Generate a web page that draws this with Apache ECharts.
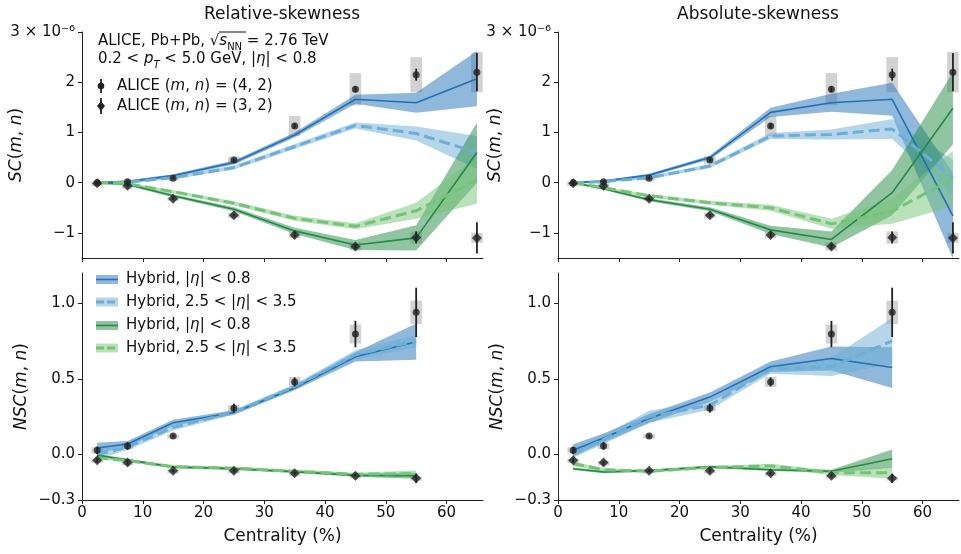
<!DOCTYPE html>
<html><head><meta charset="utf-8">
<script src="https://cdn.jsdelivr.net/npm/echarts@6/dist/echarts.min.js"></script>
<style>html,body{margin:0;padding:0;background:#fff}#c{width:961px;height:554px}</style>
</head><body><div id="c"></div>
<script>
const FONT = 'DejaVu Sans';
const TXT = '#111';
// ---------- categories / ticks ----------
const centralitySC = [2.5, 7.5, 15, 25, 35, 45, 55, 65];
const centralityNSC = [2.5, 7.5, 15, 25, 35, 45, 55];
const xTicks = [0, 10, 20, 30, 40, 50, 60];
const scTicks = [-1, 0, 1, 2, 3];
const nscTicks = [-0.3, 0, 0.5, 1.0];
const panelTitles = ['Relative-skewness', 'Absolute-skewness'];

// ---------- ALICE data (SC in units of 1e-6) ----------
const aliceSC42 = [0.0, 0.02, 0.09, 0.45, 1.13, 1.86, 2.15, 2.2];
const aliceSC42Stat = [0.02, 0.02, 0.02, 0.03, 0.05, 0.06, 0.12, 0.38];
const aliceSC42Sys = [0.02, 0.02, 0.03, 0.07, 0.2, 0.32, 0.35, 0.4];
const aliceSC32 = [-0.01, -0.06, -0.32, -0.65, -1.04, -1.27, -1.09, -1.1];
const aliceSC32Stat = [0.02, 0.03, 0.03, 0.03, 0.05, 0.05, 0.12, 0.31];
const aliceSC32Sys = [0.02, 0.02, 0.04, 0.05, 0.06, 0.08, 0.12, 0.1];
const aliceNSC42 = [0.028, 0.057, 0.123, 0.307, 0.48, 0.797, 0.94];
const aliceNSC42Stat = [0.025, 0.025, 0.01, 0.03, 0.03, 0.087, 0.163];
const aliceNSC42Sys = [0.02, 0.02, 0.01, 0.02, 0.033, 0.063, 0.077];
const aliceNSC32 = [-0.038, -0.053, -0.106, -0.106, -0.124, -0.139, -0.157];
const aliceNSC32Stat = [0.015, 0.015, 0.01, 0.012, 0.01, 0.01, 0.03];
const aliceNSC32Sys = [0.01, 0.008, 0.008, 0.008, 0.008, 0.008, 0.012];

// ---------- Hybrid model: Relative-skewness ----------
const relSC42Mid = [0, 0.02, 0.14, 0.4, 0.95, 1.66, 1.59, 2.07];
const relSC42Err = [0.02, 0.03, 0.03, 0.04, 0.05, 0.09, 0.2, 0.55];
const relSC42FwdMid = [0, 0.01, 0.1, 0.3, 0.72, 1.14, 0.98, 0.6];
const relSC42FwdErr = [0.02, 0.02, 0.03, 0.04, 0.05, 0.06, 0.14, 0.33];
const relSC32Mid = [0, -0.03, -0.26, -0.53, -0.96, -1.24, -1.1, 0.6];
const relSC32Err = [0.02, 0.03, 0.03, 0.04, 0.06, 0.1, 0.25, 0.6];
const relSC32FwdMid = [0, -0.02, -0.18, -0.41, -0.71, -0.87, -0.56, 0.05];
const relSC32FwdErr = [0.02, 0.02, 0.03, 0.04, 0.05, 0.06, 0.16, 0.47];

const relNSC42Mid = [0.044, 0.07, 0.21, 0.278, 0.44, 0.646, 0.746];
const relNSC42Err = [0.035, 0.02, 0.02, 0.015, 0.015, 0.03, 0.12];
const relNSC42FwdMid = [0.0, 0.05, 0.18, 0.28, 0.45, 0.66, 0.75];
const relNSC42FwdErr = [0.03, 0.02, 0.02, 0.015, 0.015, 0.03, 0.04];
const relNSC32Mid = [-0.005, -0.035, -0.082, -0.093, -0.113, -0.137, -0.14];
const relNSC32Err = [0.008, 0.008, 0.008, 0.008, 0.008, 0.01, 0.02];
const relNSC32FwdMid = [-0.02, -0.04, -0.08, -0.09, -0.11, -0.13, -0.125];
const relNSC32FwdErr = [0.01, 0.01, 0.01, 0.01, 0.01, 0.01, 0.02];

// ---------- Hybrid model: Absolute-skewness ----------
const absSC42Mid = [0, 0.03, 0.15, 0.5, 1.4, 1.59, 1.66, -0.66];
const absSC42Err = [0.02, 0.02, 0.03, 0.04, 0.09, 0.18, 0.33, 0.85];
const absSC42FwdMid = [0, 0.02, 0.1, 0.33, 0.93, 0.96, 1.07, 0.1];
const absSC42FwdErr = [0.02, 0.02, 0.03, 0.04, 0.06, 0.1, 0.2, 0.35];
const absSC32Mid = [0, -0.12, -0.34, -0.53, -0.94, -1.13, -0.2, 1.48];
const absSC32Err = [0.02, 0.02, 0.03, 0.04, 0.08, 0.16, 0.45, 0.72];
const absSC32FwdMid = [0, -0.1, -0.26, -0.4, -0.5, -0.82, -0.57, 0.08];
const absSC32FwdErr = [0.02, 0.02, 0.03, 0.04, 0.06, 0.1, 0.25, 0.55];

const absNSC42Mid = [0.028, 0.11, 0.238, 0.38, 0.58, 0.635, 0.575];
const absNSC42Err = [0.04, 0.03, 0.03, 0.03, 0.035, 0.08, 0.135];
const absNSC42FwdMid = [0.01, 0.1, 0.25, 0.326, 0.565, 0.58, 0.752];
const absNSC42FwdErr = [0.03, 0.03, 0.04, 0.03, 0.03, 0.06, 0.15];
const absNSC32Mid = [-0.093, -0.115, -0.106, -0.08, -0.1, -0.11, -0.027];
const absNSC32Err = [0.008, 0.008, 0.008, 0.008, 0.008, 0.01, 0.06];
const absNSC32FwdMid = [-0.06, -0.1, -0.11, -0.085, -0.075, -0.12, -0.12];
const absNSC32FwdErr = [0.015, 0.01, 0.01, 0.01, 0.015, 0.015, 0.04];

// ---------- styles ----------
const C_BLUE = '#2171b5', C_LBLUE = '#6baed6', C_GREEN = '#238b45', C_LGREEN = '#74c476';
const BAND_OP = 0.5;
const DASH = [11, 5];
const SYS_COLOR = '#d2d2d2';
const PT_COLOR = '#222';

const gridDefs = [
  { left: 82, top: 32, width: 401, height: 226 },
  { left: 558, top: 32, width: 401, height: 226 },
  { left: 82, top: 273, width: 401, height: 227 },
  { left: 558, top: 273, width: 401, height: 227 }
];

function fmtMinus(v, digits) {
  const s = digits == null ? String(Math.abs(v)) : Math.abs(v).toFixed(digits);
  return (v < 0 ? '\u2212' : '') + s;
}

const series = [];
function bandSeries(p, xs, mid, err, color) {
  return {
    type: 'custom', xAxisIndex: p, yAxisIndex: p, clip: true, silent: true, z: 2,
    data: xs.map((x, i) => [x, mid[i] - err[i], mid[i] + err[i]]),
    encode: { x: 0, y: [1, 2] },
    renderItem: (params, api) => {
      if (params.dataIndex !== 0) return;
      const up = xs.map((x, i) => api.coord([x, mid[i] + err[i]]));
      const lo = xs.map((x, i) => api.coord([x, mid[i] - err[i]])).reverse();
      return { type: 'polygon', shape: { points: up.concat(lo) }, style: { fill: color, opacity: BAND_OP } };
    }
  };
}
function lineSeries(p, xs, mid, color, dashed) {
  return {
    type: 'line', xAxisIndex: p, yAxisIndex: p, clip: true, silent: true, z: 3,
    symbol: 'none', showSymbol: false,
    data: xs.map((x, i) => [x, mid[i]]),
    lineStyle: { color, width: dashed ? 3 : 1.6, type: dashed ? DASH : 'solid' }
  };
}
function sysSeries(p, xs, ys, sys) {
  return {
    type: 'custom', xAxisIndex: p, yAxisIndex: p, clip: true, silent: true, z: 1,
    data: xs.map((x, i) => [x, ys[i], sys[i]]),
    renderItem: (params, api) => {
      const x = api.value(0), y = api.value(1), s = api.value(2);
      const a = api.coord([x - 0.95, y + s]), b = api.coord([x + 0.95, y - s]);
      return { type: 'rect', shape: { x: a[0], y: a[1], width: b[0] - a[0], height: Math.max(b[1] - a[1], 4) }, style: { fill: SYS_COLOR } };
    }
  };
}
function statSeries(p, xs, ys, st) {
  return {
    type: 'custom', xAxisIndex: p, yAxisIndex: p, clip: true, silent: true, z: 4,
    data: xs.map((x, i) => [x, ys[i], st[i]]),
    renderItem: (params, api) => {
      const x = api.value(0), y = api.value(1), s = api.value(2);
      const a = api.coord([x, y + s]), b = api.coord([x, y - s]);
      return { type: 'line', shape: { x1: a[0], y1: a[1], x2: b[0], y2: b[1] }, style: { stroke: PT_COLOR, lineWidth: 1.8 } };
    }
  };
}
function ptSeries(p, xs, ys, symbol, size) {
  return {
    type: 'scatter', xAxisIndex: p, yAxisIndex: p, silent: true, z: 5, symbol, symbolSize: size,
    itemStyle: { color: PT_COLOR }, data: xs.map((x, i) => [x, ys[i]])
  };
}

const panelData = [
  { xs: centralitySC, a42: [aliceSC42, aliceSC42Stat, aliceSC42Sys], a32: [aliceSC32, aliceSC32Stat, aliceSC32Sys],
    m: [[relSC42Mid, relSC42Err], [relSC42FwdMid, relSC42FwdErr], [relSC32Mid, relSC32Err], [relSC32FwdMid, relSC32FwdErr]] },
  { xs: centralitySC, a42: [aliceSC42, aliceSC42Stat, aliceSC42Sys], a32: [aliceSC32, aliceSC32Stat, aliceSC32Sys],
    m: [[absSC42Mid, absSC42Err], [absSC42FwdMid, absSC42FwdErr], [absSC32Mid, absSC32Err], [absSC32FwdMid, absSC32FwdErr]] },
  { xs: centralityNSC, a42: [aliceNSC42, aliceNSC42Stat, aliceNSC42Sys], a32: [aliceNSC32, aliceNSC32Stat, aliceNSC32Sys],
    m: [[relNSC42Mid, relNSC42Err], [relNSC42FwdMid, relNSC42FwdErr], [relNSC32Mid, relNSC32Err], [relNSC32FwdMid, relNSC32FwdErr]] },
  { xs: centralityNSC, a42: [aliceNSC42, aliceNSC42Stat, aliceNSC42Sys], a32: [aliceNSC32, aliceNSC32Stat, aliceNSC32Sys],
    m: [[absNSC42Mid, absNSC42Err], [absNSC42FwdMid, absNSC42FwdErr], [absNSC32Mid, absNSC32Err], [absNSC32FwdMid, absNSC32FwdErr]] }
];
const modelStyles = [[C_BLUE, false], [C_LBLUE, true], [C_GREEN, false], [C_LGREEN, true]];

panelData.forEach((d, p) => {
  series.push(sysSeries(p, d.xs, d.a42[0], d.a42[2]));
  series.push(sysSeries(p, d.xs, d.a32[0], d.a32[2]));
  d.m.forEach((mm, k) => series.push(bandSeries(p, d.xs, mm[0], mm[1], modelStyles[k][0])));
  d.m.forEach((mm, k) => series.push(lineSeries(p, d.xs, mm[0], modelStyles[k][0], modelStyles[k][1])));
  series.push(statSeries(p, d.xs, d.a42[0], d.a42[1]));
  series.push(statSeries(p, d.xs, d.a32[0], d.a32[1]));
  series.push(ptSeries(p, d.xs, d.a42[0], 'circle', 7));
  series.push(ptSeries(p, d.xs, d.a32[0], 'diamond', 10));
});

const italicRich = {
  i: { fontStyle: 'italic', fontFamily: FONT, fontSize: 17, color: TXT },
  r: { fontFamily: FONT, fontSize: 17, color: TXT }
};
const xAxes = gridDefs.map((g, p) => ({
  gridIndex: p, type: 'value', min: 0, max: 66,
  axisLine: { show: true, onZero: false, lineStyle: { color: '#222', width: 1 } },
  axisTick: { show: true, length: 4, customValues: xTicks, lineStyle: { color: '#222', width: 1 } },
  axisLabel: { show: p >= 2, customValues: xTicks, margin: 6, fontSize: 15, fontFamily: FONT, color: TXT },
  splitLine: { show: false },
  name: p >= 2 ? 'Centrality (%)' : '', nameLocation: 'middle', nameGap: 28, nameMoveOverlap: false,
  nameTextStyle: { fontSize: 17, fontFamily: FONT, color: TXT }
}));
const yGaps = [57, 54, 52, 52];
const yAxes = gridDefs.map((g, p) => {
  const isSC = p < 2;
  return {
    gridIndex: p, type: 'value', min: isSC ? -1.5 : -0.3, max: isSC ? 3 : 1.2,
    axisLine: { show: true, onZero: false, lineStyle: { color: '#222', width: 1 } },
    axisTick: { show: true, length: 4, customValues: isSC ? scTicks : nscTicks, lineStyle: { color: '#222', width: 1 } },
    axisLabel: {
      customValues: isSC ? scTicks : nscTicks, margin: 7, fontSize: 15, fontFamily: FONT, color: TXT,
      formatter: isSC ? (v => v === 3 ? '3 \u00d7 10\u207b\u2076' : fmtMinus(v)) : (v => fmtMinus(v, 1))
    },
    splitLine: { show: false },
    name: isSC ? '{i|SC}{r|(}{i|m}{r|, }{i|n}{r|)}' : '{i|NSC}{r|(}{i|m}{r|, }{i|n}{r|)}',
    nameLocation: 'middle', nameRotate: 90, nameGap: yGaps[p], nameMoveOverlap: false,
    nameTextStyle: { fontSize: 17, fontFamily: FONT, color: TXT, rich: italicRich }
  };
});

// ---------- legends / annotations (graphic) ----------
const T15 = { fontSize: 15, fontFamily: FONT, fill: TXT };
const rich15 = {
  i: { fontStyle: 'italic', fontSize: 15, fontFamily: FONT, color: TXT },
  r: { fontSize: 15, fontFamily: FONT, color: TXT },
  sub: { fontSize: 10, fontFamily: FONT, color: TXT, verticalAlign: 'bottom', lineHeight: 22 },
  isub: { fontSize: 10, fontStyle: 'italic', fontFamily: FONT, color: TXT, verticalAlign: 'bottom', lineHeight: 22 }
};
function richText(x, y, text) {
  return { type: 'text', x, y, silent: true, style: Object.assign({ text, rich: rich15, verticalAlign: 'middle', lineHeight: 22 }, T15) };
}
const graphics = [];
graphics.push({ type: 'text', x: 282, y: 15, style: { text: panelTitles[0], fontSize: 17, fontFamily: FONT, fill: TXT, align: 'center', verticalAlign: 'middle' } });
graphics.push({ type: 'text', x: 758, y: 15, style: { text: panelTitles[1], fontSize: 17, fontFamily: FONT, fill: TXT, align: 'center', verticalAlign: 'middle' } });
graphics.push(richText(98, 41, '{r|ALICE, Pb+Pb, \u221a}{i|s}{sub|NN}{r| = 2.76 TeV}'));
graphics.push({ type: 'line', shape: { x1: 219, y1: 32, x2: 246, y2: 32 }, style: { stroke: TXT, lineWidth: 1 } });
graphics.push(richText(98, 59, '{r|0.2 < }{i|p}{isub|T}{r| < 5.0 GeV, |}{i|\u03b7}{r|| < 0.8}'));
// ALICE legend entries
graphics.push({ type: 'line', shape: { x1: 101, y1: 79, x2: 101, y2: 93 }, style: { stroke: PT_COLOR, lineWidth: 1.8 } });
graphics.push({ type: 'circle', shape: { cx: 101, cy: 86, r: 3.3 }, style: { fill: PT_COLOR } });
graphics.push(richText(117, 86, '{r|ALICE (}{i|m}{r|, }{i|n}{r|) = (4, 2)}'));
graphics.push({ type: 'line', shape: { x1: 101, y1: 98, x2: 101, y2: 114 }, style: { stroke: PT_COLOR, lineWidth: 1.8 } });
graphics.push({ type: 'polygon', shape: { points: [[101, 101], [105, 106], [101, 111], [97, 106]] }, style: { fill: PT_COLOR } });
graphics.push(richText(117, 106, '{r|ALICE (}{i|m}{r|, }{i|n}{r|) = (3, 2)}'));
// Hybrid legend entries
const hybLegend = [
  [279.5, C_BLUE, false, '{r|Hybrid, |}{i|\u03b7}{r|| < 0.8}'],
  [302, C_LBLUE, true, '{r|Hybrid, 2.5 < |}{i|\u03b7}{r|| < 3.5}'],
  [325.5, C_GREEN, false, '{r|Hybrid, |}{i|\u03b7}{r|| < 0.8}'],
  [348, C_LGREEN, true, '{r|Hybrid, 2.5 < |}{i|\u03b7}{r|| < 3.5}']
];
hybLegend.forEach(([y, c, dashed, txt]) => {
  graphics.push({ type: 'rect', shape: { x: 96, y: y - 4.5, width: 22, height: 9 }, style: { fill: c, opacity: BAND_OP } });
  graphics.push({ type: 'line', shape: { x1: 96, y1: y, x2: 118, y2: y }, style: { stroke: c, lineWidth: dashed ? 3 : 1.6, lineDash: dashed ? [8, 3] : null } });
  graphics.push(richText(126, y, txt));
});

const chart = echarts.init(document.getElementById('c'), null, { renderer: 'canvas' });
chart.setOption({
  backgroundColor: '#fff',
  animation: false,
  textStyle: { fontFamily: FONT },
  grid: gridDefs.map(g => Object.assign({ containLabel: false, outerBoundsMode: 'none' }, g)),
  xAxis: xAxes,
  yAxis: yAxes,
  series,
  graphic: graphics
});
</script></body></html>
